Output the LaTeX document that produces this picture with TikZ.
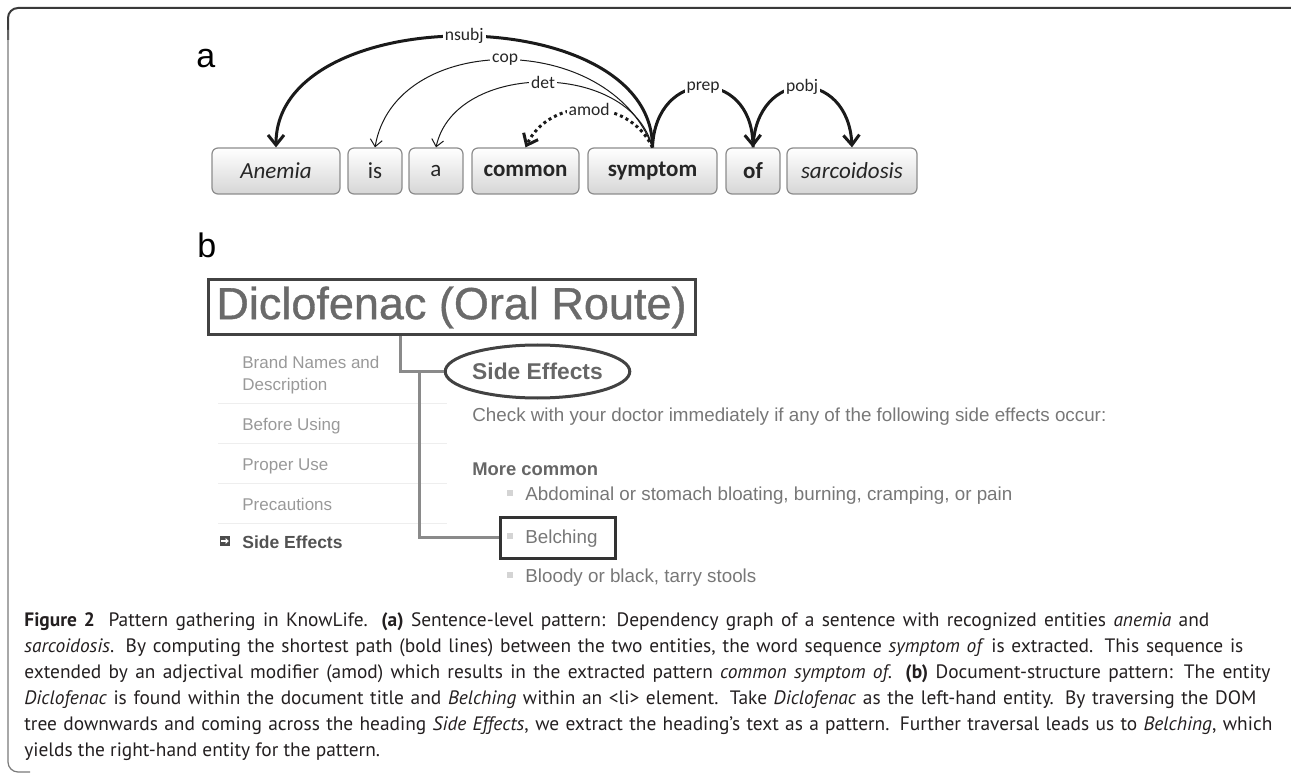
\documentclass[tikz,border=0pt]{standalone}
\usepackage{fontspec}
\setmainfont{Liberation Sans}
\newfontfamily\calfont{Carlito}
\newfontfamily\capfont{PT Sans}
\newfontfamily\titlefont[FakeBold=0.8]{Liberation Sans}
\usetikzlibrary{arrows.meta,shapes.geometric}
\definecolor{boxline}{HTML}{8C8C8C}
\definecolor{boxbot}{HTML}{D6D6D6}
\definecolor{arcc}{HTML}{1A1A1A}
\definecolor{titlegray}{HTML}{6A6A6A}
\definecolor{darkframe}{HTML}{424242}
\definecolor{connc}{HTML}{8A8A8A}
\definecolor{bodygray}{HTML}{777777}
\definecolor{headgray}{HTML}{666666}
\definecolor{sidegray}{HTML}{999999}
\definecolor{sepgray}{HTML}{EEEEEE}
\definecolor{bulletgray}{HTML}{D4D4D4}
\definecolor{capblack}{HTML}{231F20}
\definecolor{frametop}{HTML}{3A3A3A}
\definecolor{frameleft}{HTML}{7A7A7A}
\begin{document}
\begin{tikzpicture}[x=0.5pt,y=-0.5pt,
  word/.style={draw=boxline, line width=0.6pt, rounded corners=3pt, top color=white, bottom color=boxbot, minimum height=23pt, inner sep=0pt, font=\calfont\fontsize{11.5}{13}\selectfont, text=black!85},
  deplabel/.style={fill=white, inner sep=1pt, font=\calfont\fontsize{8.8}{10}\selectfont, text=black!85},
  boldarc/.style={line width=1.5pt, draw=arcc, -{Straight Barb[length=5pt,width=8pt,line width=1.5pt]}},
  thinarc/.style={line width=0.5pt, draw=arcc, -{Straight Barb[length=3.5pt,width=6pt,line width=0.5pt]}},
  dotarc/.style={line width=1.5pt, draw=arcc, dash pattern=on 1.5pt off 1.6pt, -{Straight Barb[length=5pt,width=8pt,line width=1.5pt]}},
  panel/.style={anchor=base west, inner sep=0pt, font=\fontsize{17}{17}\selectfont},
  conn/.style={draw=connc, line width=1.5pt},
  bodytext/.style={anchor=base west, inner sep=0pt, text=bodygray, font=\fontsize{9.4}{11}\selectfont},
  sidetext/.style={anchor=base west, inner sep=0pt, text=sidegray, font=\fontsize{8.5}{10}\selectfont},
  bulletsq/.style={fill=bulletgray, minimum size=3.2pt, inner sep=0pt},
  captext/.style={anchor=base west, inner sep=0pt, text=capblack, font=\capfont\fontsize{9.7}{11}\selectfont}
]
\useasboundingbox (0,0) rectangle (1291,775);
% frame
\draw[frametop, line width=1pt, rounded corners=5pt] (1291,8) -- (8,8) -- (8,40);
\draw[frameleft, line width=0.6pt, rounded corners=5pt] (8,30) -- (8,772) -- (30,772);

% ---------- panel a ----------
\node[panel] (la) at (196,68) {a};
\node[word, minimum width=64pt] (wanemia) at (276,171) {\itshape Anemia};
\node[word, minimum width=27pt] (wis) at (375,171) {is};
\node[word, minimum width=27pt] (wa) at (436,171) {a};
\node[word, minimum width=53.5pt] (wcommon) at (525.5,171) {\bfseries common};
\node[word, minimum width=64.5pt] (wsymptom) at (652.5,171) {\bfseries symptom};
\node[word, minimum width=27pt] (wof) at (753,171) {\bfseries of};
\node[word, minimum width=65pt] (wsarc) at (852,171) {\itshape sarcoidosis};

\draw[thinarc] (wsymptom.north) .. controls +(-43,-117) and +(20,-117) .. node[deplabel] (lcop) {cop} (wis.north);
\draw[thinarc] (wsymptom.north) .. controls +(-22,-87) and +(19,-87) .. node[deplabel] (ldet) {det} (wa.north);
\draw[dotarc] (wsymptom.north) .. controls +(-24,-51) and +(24.5,-51) .. node[deplabel] (lamod) {amod} (wcommon.north);
\draw[boldarc] (wsymptom.north) .. controls +(0,-148) and +(0,-148) .. node[deplabel] (lnsubj) {nsubj} (wanemia.north);
\draw[boldarc] (wsymptom.north) .. controls +(3,-80) and +(-2,-80) .. node[deplabel] (lprep) {prep} (wof.north);
\draw[boldarc] (wof.north) .. controls +(3,-80) and +(-4,-80) .. node[deplabel] (lpobj) {pobj} (wsarc.north);

% ---------- panel b ----------
\node[panel] (lb) at (197,258) {b};
\node[draw=darkframe, line width=1.5pt, minimum width=243.5pt, minimum height=27.5pt, inner sep=0pt, text=titlegray, font=\titlefont\fontsize{22.5}{23}\selectfont] (title) at (451.5,307.5) {Diclofenac (Oral Route)};

% sidebar
\foreach \yy in {403,443,483,523} {
  \draw[sepgray, line width=0.5pt] (218,\yy) -- (447,\yy);
}
\node[sidetext] (sb1) at (242,369) {Brand Names and};
\node[sidetext] (sb2) at (242,390) {Description};
\node[sidetext] (sb3) at (242,430) {Before Using};
\node[sidetext] (sb4) at (242,470) {Proper Use};
\node[sidetext] (sb5) at (242,510) {Precautions};
\node[fill=black!70, minimum size=5pt, inner sep=0pt] (sbicon) at (225,541) {};
\draw[white, line width=0.6pt, -{Triangle[length=1.6pt,width=2.8pt]}] ([xshift=-1.8pt]sbicon.center) -- ([xshift=1.9pt]sbicon.center);
\node[sidetext, text=black!68, font=\bfseries\fontsize{8.75}{10}\selectfont] (sb6) at (242,548) {Side Effects};

% heading and content
\node[draw=darkframe, line width=1.5pt, ellipse, minimum width=75.5pt, minimum height=26.5pt, inner sep=0pt, text=headgray, font=\bfseries\fontsize{11.4}{12}\selectfont] (sidefx) at (537.5,371.5) {Side Effects};
\node[bodytext] (check) at (472,422) {Check with your doctor immediately if any of the following side effects occur:};
\node[bodytext, text=headgray, font=\bfseries\fontsize{9.2}{11}\selectfont] (more) at (472,475) {More common};
\node[bulletsq] (bu1) at (510,493) {};
\node[bodytext] (abd) at (525,500) {Abdominal or stomach bloating, burning, cramping, or pain};
\node[draw=black!80, line width=1.5pt, minimum width=57.5pt, minimum height=20.5pt, inner sep=0pt] (belch) at (557.5,537.5) {};
\node[bulletsq] (bu2) at (510,536) {};
\node[bodytext] (belchtext) at (525,543) {Belching};
\node[bulletsq] (bu3) at (510,575) {};
\node[bodytext] (bloody) at (525,582) {Bloody or black, tarry stools};

% DOM connectors
\draw[conn] ([xshift=-25.75pt]title.south) |- (sidefx.west);
\draw[conn] ([xshift=-12pt]sidefx.west) |- (belch.west);

% ---------- caption ----------
\node[captext] (c1) at (24,626) {\makebox[592.5pt][s]{\textbf{Figure 2}\hspace{0.7em}Pattern gathering in KnowLife. \textbf{(a)} Sentence-level pattern: Dependency graph of a sentence with recognized entities \textit{anemia} and}};
\node[captext] (c2) at (24,652) {\makebox[609.5pt][s]{\textit{sarcoidosis}. By computing the shortest path (bold lines) between the two entities, the word sequence \textit{symptom of} is extracted. This sequence is}};
\node[captext] (c3) at (24,678) {\makebox[623pt][s]{extended by an adjectival modifier (amod) which results in the extracted pattern \textit{common symptom of}. \textbf{(b)} Document-structure pattern: The entity}};
\node[captext] (c4) at (24,704) {\makebox[616pt][s]{\textit{Diclofenac} is found within the document title and \textit{Belching} within an \textless{}li\textgreater{} element. Take \textit{Diclofenac} as the left-hand entity. By traversing the DOM}};
\node[captext] (c5) at (24,730) {\makebox[624pt][s]{tree downwards and coming across the heading \textit{Side Effects}, we extract the heading’s text as a pattern. Further traversal leads us to \textit{Belching}, which}};
\node[captext] (c6) at (24,756) {yields the right-hand entity for the pattern.};
\end{tikzpicture}
\end{document}
